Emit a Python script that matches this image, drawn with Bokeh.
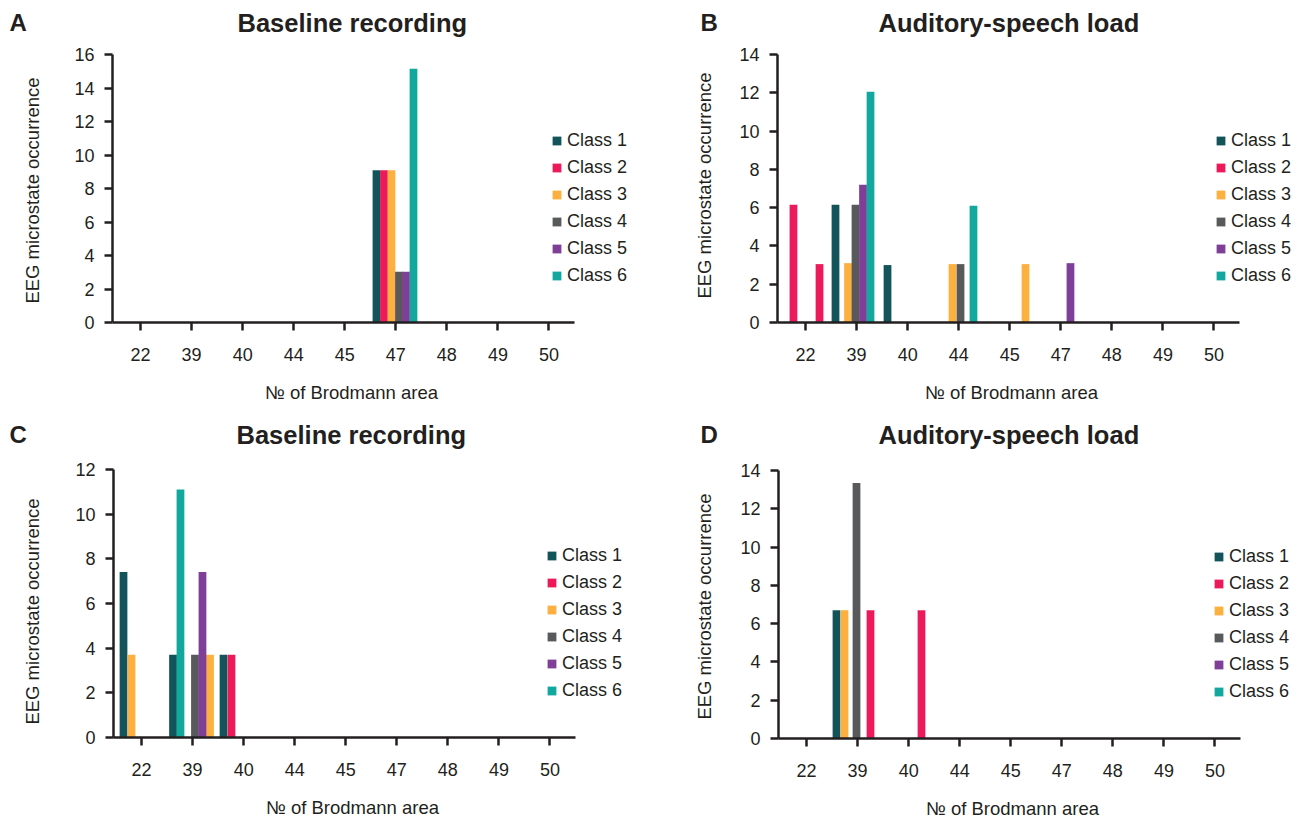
import math
from bokeh.plotting import figure
from bokeh.models import Range1d, FixedTicker, Legend, LegendItem, Label, ColumnDataSource
from bokeh.layouts import row, column
from bokeh.embed import file_html
from bokeh.resources import INLINE

# ---------------- data ----------------
AREAS = ["22", "39", "40", "44", "45", "47", "48", "49", "50"]
CLASS_NAMES = ["Class 1", "Class 2", "Class 3", "Class 4", "Class 5", "Class 6"]
TITLES = ["Baseline recording", "Auditory-speech load"]
X_LABEL = "№ of Brodmann area"
Y_LABEL = "EEG microstate occurrence"

# bar positions in units of the category axis (0 = area 22 ... 8 = area 50)
a_pos = [4.621, 4.768, 4.915, 5.062, 5.199, 5.346]
a_cls = [1, 2, 3, 4, 5, 6]
a_val = [9.09, 9.09, 9.09, 3.03, 3.03, 15.15]

b_pos = [-0.237, 0.273, 0.586, 0.831, 0.978, 1.125, 1.272, 1.605, 2.878, 3.035, 3.289, 4.308, 5.189]
b_cls = [2, 2, 1, 3, 4, 5, 6, 1, 3, 4, 6, 3, 5]
b_val = [6.15, 3.05, 6.15, 3.1, 6.15, 7.2, 12.05, 3.0, 3.05, 3.05, 6.1, 3.05, 3.1]

c_pos = [-0.354, -0.197, 0.616, 0.762, 1.046, 1.193, 1.340, 1.605, 1.761]
c_cls = [1, 3, 1, 6, 4, 5, 3, 1, 2]
c_val = [7.41, 3.7, 3.7, 11.11, 3.7, 7.41, 3.7, 3.7, 3.7]

d_pos = [0.586, 0.743, 0.978, 1.252, 2.251]
d_cls = [1, 3, 4, 2, 2]
d_val = [6.7, 6.7, 13.35, 6.7, 6.7]

# ---------------- style ----------------
CLASS_COLORS = ["#13545b", "#ec1a5a", "#fbb040", "#58595b", "#7f3f98", "#13a89e"]
TEXT = "#231f20"
FONT = "Liberation Sans"
BAR_W = 0.152
X0, XAX = -0.55, 8.5           # x-axis extent (category units)
PPX = 462 / (XAX - X0)          # pixels per category unit
FRAME_H = 268                   # pixel height of the value axis


def make_panel(letter, title, pos, cls, val, ymax, W, H, L, T,
               letter_px, head_up, title_px, ylab_px, ylab_dy, xlab_dx, leg_px):
    xa = X0 - L / PPX
    xb = xa + W / PPX
    ppy = FRAME_H / ymax
    y_end = ymax + T / ppy
    y_start = -(H - T - FRAME_H) / ppy

    def dx(px):
        return xa + px / PPX

    def dy(py):
        return y_end - py / ppy

    p = figure(width=W, height=H, x_range=Range1d(xa, xb), y_range=Range1d(y_start, y_end),
               output_backend="svg", toolbar_location=None,
               min_border_left=0, min_border_right=0, min_border_top=0, min_border_bottom=0)

    items = []
    for k, name in enumerate(CLASS_NAMES):
        idx = [i for i, c in enumerate(cls) if c == k + 1]
        xs = [pos[i] for i in idx]
        tops = [val[i] for i in idx]
        if not xs:  # keep a legend swatch for classes without bars
            xs, tops = [X0], [0]
        src = ColumnDataSource(dict(x=xs, top=tops))
        r = p.vbar(x="x", top="top", bottom=0, width=BAR_W, source=src,
                   fill_color=CLASS_COLORS[k], line_color=None)
        items.append(LegendItem(label=name, renderers=[r]))

    leg_bottom = T + FRAME_H - 36
    leg = Legend(items=items, location=(leg_px, H - leg_bottom), padding=0, margin=0,
                 border_line_color=None, background_fill_alpha=0,
                 glyph_width=11, glyph_height=11, label_standoff=5,
                 label_height=20, spacing=6,
                 label_text_font=FONT, label_text_font_size="18px", label_text_color=TEXT)
    p.add_layout(leg)

    p.xaxis.ticker = FixedTicker(ticks=list(range(len(AREAS))))
    p.xaxis.major_label_overrides = {i: a for i, a in enumerate(AREAS)}
    p.xaxis.bounds = (X0, XAX)
    p.xaxis.fixed_location = 0
    p.yaxis.ticker = FixedTicker(ticks=list(range(0, ymax + 1, 2)))
    p.yaxis.bounds = (0, ymax)
    p.yaxis.fixed_location = X0

    for ax in (p.xaxis[0], p.yaxis[0]):
        ax.axis_line_width = 2.5
        ax.axis_line_color = TEXT
        ax.major_tick_line_width = 2.5
        ax.major_tick_line_color = TEXT
        ax.major_tick_out = 8
        ax.major_tick_in = 0
        ax.minor_tick_line_color = None
        ax.major_label_text_font = FONT
        ax.major_label_text_font_size = "18px"
        ax.major_label_text_color = TEXT
    p.xaxis.major_label_standoff = 17
    p.yaxis.major_label_standoff = 10

    p.xgrid.grid_line_color = None
    p.ygrid.grid_line_color = None
    p.outline_line_color = None

    # panel letter and title
    p.add_layout(Label(x=dx(letter_px), y=dy(T - head_up), text=letter,
                       text_font=FONT, text_font_size="24px", text_font_style="bold",
                       text_color=TEXT, text_align="left", text_baseline="alphabetic"))
    p.add_layout(Label(x=dx(title_px), y=dy(T - head_up), text=title,
                       text_font=FONT, text_font_size="25.5px", text_font_style="bold",
                       text_color=TEXT, text_align="left", text_baseline="alphabetic"))
    # axis titles
    p.add_layout(Label(x=dx(L + xlab_dx), y=dy(T + FRAME_H + 70), text=X_LABEL,
                       text_font=FONT, text_font_size="18.5px", text_color=TEXT,
                       text_align="center", text_baseline="middle"))
    p.add_layout(Label(x=dx(ylab_px), y=dy(T + FRAME_H / 2 + ylab_dy), text=Y_LABEL,
                       angle=math.pi / 2, text_font=FONT, text_font_size="18.5px",
                       text_color=TEXT, text_align="center", text_baseline="middle"))
    return p


pA = make_panel("A", TITLES[0], a_pos, a_cls, a_val, 16, 640, 415, 112, 54,
                9, 32, 237, 32, 2, 239, 551)
pB = make_panel("B", TITLES[1], b_pos, b_cls, b_val, 14, 666, 415, 137, 54,
                60, 32, 238, 63.5, -3, 234, 575)
pC = make_panel("C", TITLES[0], c_pos, c_cls, c_val, 12, 640, 403, 113, 54,
                9, 35, 236, 32, 8, 239, 546)
pD = make_panel("D", TITLES[1], d_pos, d_cls, d_val, 14, 666, 403, 138, 55,
                60, 36, 238, 63.5, 2, 234, 573)

layout = column(row(pA, pB), row(pC, pD))
open("out.html", "w").write(file_html(layout, INLINE))
